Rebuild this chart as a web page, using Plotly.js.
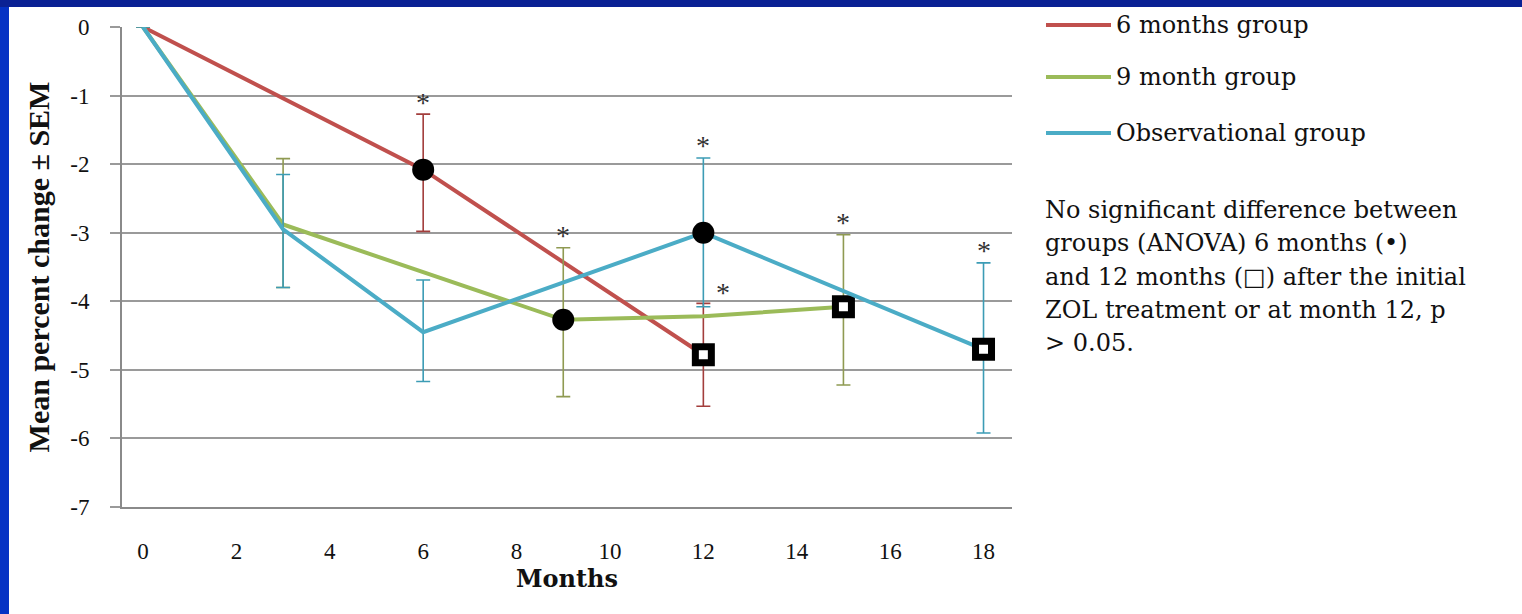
<!DOCTYPE html>
<html>
<head>
<meta charset="utf-8">
<script src="https://cdn.plot.ly/plotly-3.0.1.min.js"></script>
<style>
  html, body { margin: 0; padding: 0; }
  body { width: 1522px; height: 614px; background: #0532c4; position: relative; overflow: hidden; }
  #topband { position: absolute; left: 0; top: 0; width: 1522px; height: 7px; background: #0a2194; }
  #chart { position: absolute; left: 9px; top: 7px; width: 1513px; height: 607px; background: #fff; }
</style>
</head>
<body>
<div id="topband"></div>
<div id="chart"></div>
<script>
// Mean percent change (± SEM) by month for each group
const seriesNames = ['6 months group', '9 month group', 'Observational group'];

const months6 = [0, 6, 12];
const change6 = [0, -2.08, -4.78];
const semUp6 = [0, 0.81, 0.75];
const semDown6 = [0, 0.90, 0.75];
const visit6 = ['', '6 mo', '12 mo'];
const star6 = [false, true, false];

const months9 = [0, 3, 9, 12, 15];
const change9 = [0, -2.88, -4.27, -4.22, -4.08];
const semUp9 = [0, 0.96, 1.05, 0, 1.05];
const semDown9 = [0, 0.92, 1.12, 0, 1.14];
const visit9 = ['', '', '6 mo', '', '12 mo'];
const star9 = [false, false, true, true, true];

const monthsObs = [0, 3, 6, 12, 18];
const changeObs = [0, -2.95, -4.45, -3.0, -4.70];
const semUpObs = [0, 0.80, 0.76, 1.09, 1.26];
const semDownObs = [0, 0.85, 0.72, 1.08, 1.22];
const visitObs = ['', '', '', '6 mo', '12 mo'];
const starObs = [false, false, false, true, true];

const xTicks = [0, 2, 4, 6, 8, 10, 12, 14, 16, 18];
const yTicks = [0, -1, -2, -3, -4, -5, -6, -7];

const noteLines = [
  'No significant difference between',
  'groups (ANOVA) 6 months (•)',
  'and 12 months (□) after the initial',
  'ZOL treatment or at month 12, p',
  '> 0.05.'
];

// ---- styling ----
const lineColors = ['#c0504d', '#9bbb59', '#4bacc6'];
const barColors = ['#a33e3c', '#8f9a52', '#3c9cb5'];
const serif = 'Liberation Serif, Times New Roman, serif';
const wideSerif = 'DejaVu Serif, serif';
const ink = '#111111';

function markerFor(visits) {
  return {
    opacity: 1,
    symbol: visits.map(v => v === '12 mo' ? 'square' : 'circle'),
    size: visits.map(v => v === '6 mo' ? 22 : (v === '12 mo' ? 16 : 0)),
    color: visits.map(v => v === '12 mo' ? '#ffffff' : '#000000'),
    line: { color: '#000000', width: visits.map(v => v === '12 mo' ? 7 : 0) }
  };
}

function makeTrace(i, xs, ys, up, down, visits) {
  return {
    type: 'scatter', mode: 'lines+markers', name: seriesNames[i],
    x: xs, y: ys, opacity: 1,
    line: { color: lineColors[i], width: 4 },
    marker: markerFor(visits),
    error_y: { type: 'data', symmetric: false, array: up, arrayminus: down,
               color: barColors[i], thickness: 1.6, width: 7 },
    showlegend: false, hoverinfo: 'x+y'
  };
}

const traces = [
  makeTrace(0, months6, change6, semUp6, semDown6, visit6),
  makeTrace(1, months9, change9, semUp9, semDown9, visit9),
  makeTrace(2, monthsObs, changeObs, semUpObs, semDownObs, visitObs)
];

// plot area geometry inside the chart div
const M = { l: 113, r: 510, t: 20, b: 107 };
const PW = 1513 - M.l - M.r, PH = 607 - M.t - M.b;
const px = ax => (ax - 9 - M.l) / PW;
const py = ay => 1 - (ay - 7 - M.t) / PH;

const annotations = [];
const shapes = [];

// significance asterisks above the error bars
function addStars(xs, ys, up, stars) {
  xs.forEach((x, k) => {
    if (!stars[k]) return;
    const hasBar = up[k] > 0;
    annotations.push({
      x: x, y: ys[k] + up[k], xref: 'x', yref: 'y', text: '*', showarrow: false,
      font: { family: serif, size: 28, color: '#333' },
      xshift: hasBar ? 0 : 20, yshift: hasBar ? 12 : 24
    });
  });
}
addStars(months6, change6, semUp6, star6);
addStars(months9, change9, semUp9, star9);
addStars(monthsObs, changeObs, semUpObs, starObs);

// legend drawn as line samples with labels
const legendY = [25, 77, 133];
seriesNames.forEach((name, i) => {
  shapes.push({ type: 'line', xref: 'paper', yref: 'paper',
    x0: px(1046), x1: px(1111), y0: py(legendY[i]), y1: py(legendY[i]),
    line: { color: lineColors[i], width: 4 } });
  annotations.push({ xref: 'paper', yref: 'paper', x: px(1114), y: py(legendY[i]),
    xanchor: 'left', yanchor: 'middle', text: name, showarrow: false,
    font: { family: wideSerif, size: 24, color: ink } });
});

// side note
const noteY = [210, 243, 277, 310, 343];
noteLines.forEach((t, i) => {
  annotations.push({ xref: 'paper', yref: 'paper', x: px(1043), y: py(noteY[i]),
    xanchor: 'left', yanchor: 'middle', text: t, showarrow: false,
    font: { family: wideSerif, size: 24, color: ink } });
});

const layout = {
  width: 1513, height: 607,
  margin: M,
  paper_bgcolor: '#ffffff', plot_bgcolor: '#ffffff',
  font: { family: serif, color: ink },
  xaxis: {
    range: [-0.45, 18.61], tickvals: xTicks, ticktext: xTicks.map(String),
    showgrid: false, zeroline: false,
    showline: true, linecolor: '#8a8a8a', linewidth: 2,
    ticks: '', ticklabelstandoff: 22,
    tickfont: { family: serif, size: 23, color: ink },
    title: { text: '<b>Months</b>', font: { family: wideSerif, size: 24, color: ink }, standoff: 6 },
    automargin: false, fixedrange: true
  },
  yaxis: {
    range: [-7, 0], tickvals: yTicks, ticktext: yTicks.map(String),
    showgrid: true, gridcolor: '#9a9a9a', gridwidth: 2, zeroline: false,
    showline: true, linecolor: '#8a8a8a', linewidth: 2,
    ticks: 'outside', ticklen: 10, tickcolor: '#9a9a9a', tickwidth: 2,
    ticklabelstandoff: 16,
    tickfont: { family: serif, size: 23, color: ink },
    title: { text: '<b>Mean percent change ± SEM</b>', font: { family: serif, size: 30, color: ink }, standoff: 12 },
    automargin: false, fixedrange: true
  },
  shapes: shapes,
  annotations: annotations,
  showlegend: false
};

Plotly.newPlot('chart', traces, layout, { staticPlot: true, displayModeBar: false });
</script>
</body>
</html>
